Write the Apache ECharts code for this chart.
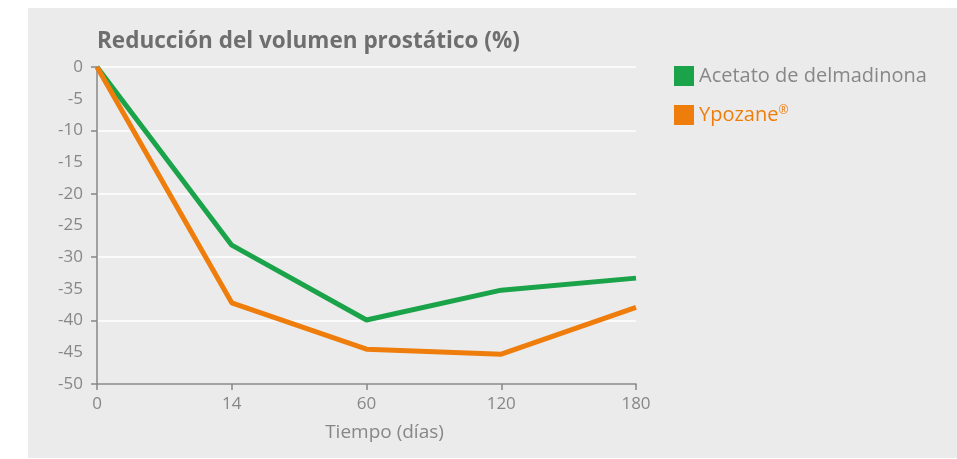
<!DOCTYPE html>
<html>
<head>
<meta charset="utf-8">
<script src="https://cdn.jsdelivr.net/npm/echarts@6/dist/echarts.min.js"></script>
<style>
	html, body { margin: 0; padding: 0; background: #fff; }
	#mychart { position: absolute; left: 28px; top: 8px; width: 929px; height: 450px; background: #ebebeb; }
</style>
</head>
<body>
<div id="mychart"></div>
<script>
// datos
var dias = ['0', '14', '60', '120', '180'];
var acetato = [0, -28.1, -39.9, -35.2, -33.3];
var ypozane = [0, -37.2, -44.5, -45.3, -37.9];
var nombres = ['Acetato de delmadinona', 'Ypozane®'];

var colors = ['#1ba34a', '#ee7d0c'];
var gris = '#878787';
var fuente = 'Open Sans';

var myChart = echarts.init(document.getElementById('mychart'));
var option = {
	color: colors,
	animation: false,
	textStyle: { fontFamily: fuente },
	title: {
		text: 'Reducción del volumen prostático (%)',
		left: 64,
		top: 17,
		textStyle: { fontFamily: fuente, fontWeight: 'bold', fontSize: 22.5, color: '#6e6e6e' }
	},
	legend: {
		orient: 'vertical',
		left: 641,
		top: 53,
		itemWidth: 20,
		itemHeight: 20,
		itemGap: 19,
		icon: 'rect',
		formatter: function(name) {
			if(name == nombres[1]) return '{t|Ypozane}{sup|®}';
			return '{g|' + name + '}';
		},
		textStyle: {
			fontSize: 20,
			color: gris,
			rich: {
				g: { fontSize: 20, color: gris, fontFamily: fuente },
				t: { fontSize: 20, color: colors[1], fontFamily: fuente },
				sup: { fontSize: 12, color: colors[1], fontFamily: fuente, verticalAlign: 'top', padding: [0, 0, 8, 0] }
			}
		},
		data: [nombres[0], nombres[1]]
	},
	grid: { left: 69, right: 321, top: 59, bottom: 74 },
	xAxis: {
		type: 'category',
		boundaryGap: false,
		data: dias,
		name: 'Tiempo (días)',
		nameLocation: 'middle',
		nameGap: 39,
		nameTextStyle: { fontSize: 19, color: gris, padding: [0, 0, 0, 36] },
		axisLine: { onZero: false, lineStyle: { color: gris, width: 1.5 } },
		axisTick: { show: true, length: 6, lineStyle: { color: gris, width: 1.5 } },
		axisLabel: { fontSize: 17, color: gris, margin: 12 },
		splitLine: { show: false }
	},
	yAxis: [{
			type: 'value',
			min: -50,
			max: 0,
			interval: 5,
			axisLine: { show: false },
			axisTick: { show: false },
			axisLabel: { fontSize: 17, color: gris, margin: 14 },
			splitLine: { show: false }
		},
		{
			type: 'value',
			min: -50,
			max: 0,
			interval: 10,
			position: 'left',
			axisLine: { show: true, onZero: false, lineStyle: { color: gris, width: 1.5 } },
			axisTick: { show: true, length: 6, lineStyle: { color: gris, width: 1.5 } },
			axisLabel: { show: false },
			splitLine: { show: true, lineStyle: { color: '#ffffff', width: 1.5 } }
		}
	],
	series: [{
			name: nombres[0],
			type: 'line',
			data: acetato,
			showSymbol: false,
			symbol: 'none',
			lineStyle: { width: 5, color: colors[0] },
			z: 3
		},
		{
			name: nombres[1],
			type: 'line',
			data: ypozane,
			showSymbol: false,
			symbol: 'none',
			lineStyle: { width: 5, color: colors[1] },
			z: 4
		}
	]
};
myChart.setOption(option);
</script>
</body>
</html>
